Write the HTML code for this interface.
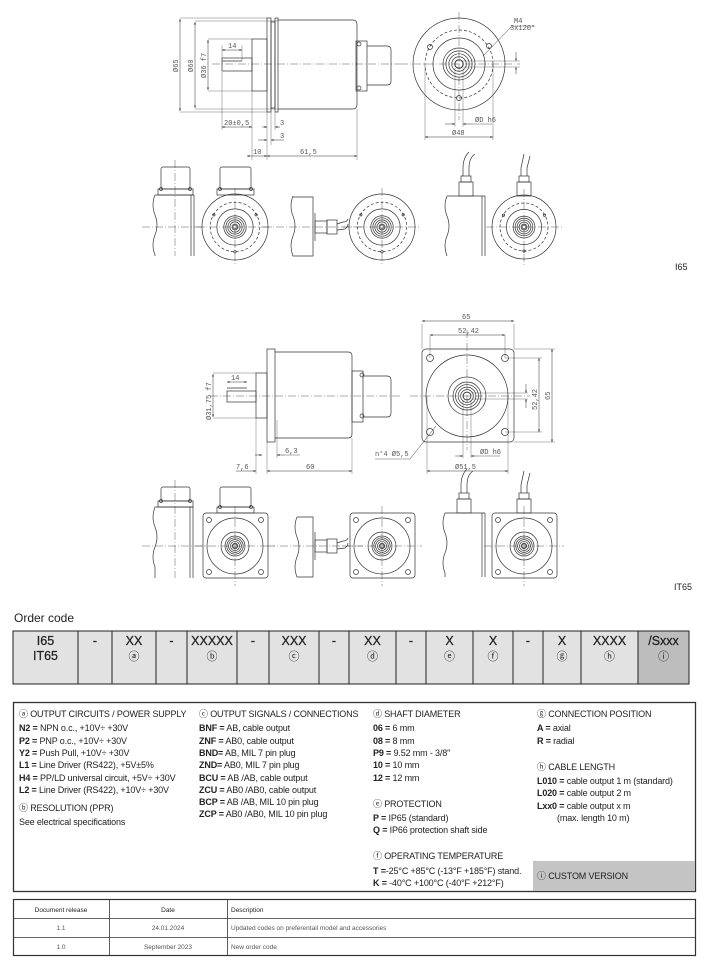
<!DOCTYPE html>
<html><head><meta charset="utf-8"><style>
html,body{margin:0;padding:0;background:#fff;}
svg{display:block;}
.t{font-family:"Liberation Sans",sans-serif;fill:#222;}
.d{font-family:"Liberation Mono",monospace;font-size:7px;fill:#555;}
</style></head><body>
<svg id="s" width="709" height="964" viewBox="0 0 709 964" xmlns="http://www.w3.org/2000/svg">
<defs>
<marker id="a" viewBox="0 0 6 6" refX="6" refY="3" markerWidth="5" markerHeight="5" orient="auto-start-reverse"><path d="M0,1 L6,3 L0,5z" fill="#222"/></marker>
</defs>
<g id="draw" fill="none" stroke="#333" stroke-width="0.7"></g>

<text class="d" transform="translate(178,72) rotate(-90)">Ø65</text>
<text class="d" transform="translate(193,72) rotate(-90)">Ø60</text>
<text class="d" transform="translate(206,78) rotate(-90)">Ø36 f7</text>
<text class="d" x="228" y="48">14</text>
<text class="d" x="224" y="125">20±0,5</text>
<text class="d" x="280" y="125">3</text>
<text class="d" x="280" y="138">3</text>
<text class="d" x="253" y="154">10</text>
<text class="d" x="300" y="154">61,5</text>
<text class="d" x="514" y="23">M4</text>
<text class="d" x="510" y="30">3x120°</text>
<text class="d" x="475" y="122">ØD h6</text>
<text class="d" x="452" y="135">Ø48</text>
<text class="t" x="675" y="270" style="font-size:9px">I65</text>

<text class="d" transform="translate(211,420) rotate(-90)">Ø31,75 f7</text>
<text class="d" x="231" y="380">14</text>
<text class="d" x="285" y="453">6,3</text>
<text class="d" x="306" y="469">60</text>
<text class="d" x="236" y="469">7,6</text>
<text class="d" x="462" y="319">65</text>
<text class="d" x="458" y="333">52,42</text>
<text class="d" transform="translate(537,410) rotate(-90)">52,42</text>
<text class="d" transform="translate(550,400) rotate(-90)">65</text>
<text class="d" x="480" y="454">ØD h6</text>
<text class="d" x="455" y="469">Ø51,5</text>
<text class="d" x="375" y="456">n°4 Ø5,5</text>
<text class="t" x="674" y="590" style="font-size:9px">IT65</text>

<text class="t" x="14" y="622" style="font-size:12px">Order code</text>
<g id="oc"></g>

<rect x="13.5" y="702.5" width="682" height="189" fill="none" stroke="#333" stroke-width="1.3"/>
<rect x="533" y="861" width="162" height="30" fill="#c4c4c4"/>
<g class="t" style="font-size:9px;letter-spacing:-0.15px">
<text x="19" y="717">ⓐ OUTPUT CIRCUITS / POWER SUPPLY</text>
<text x="19" y="731"><tspan font-weight="bold">N2 =</tspan> NPN o.c., +10V÷ +30V</text>
<text x="19" y="744"><tspan font-weight="bold">P2 =</tspan> PNP o.c., +10V÷ +30V</text>
<text x="19" y="756"><tspan font-weight="bold">Y2 =</tspan> Push Pull, +10V÷ +30V</text>
<text x="19" y="768"><tspan font-weight="bold">L1 =</tspan> Line Driver (RS422), +5V±5%</text>
<text x="19" y="781"><tspan font-weight="bold">H4 =</tspan> PP/LD universal circuit, +5V÷ +30V</text>
<text x="19" y="793"><tspan font-weight="bold">L2 =</tspan> Line Driver (RS422), +10V÷ +30V</text>
<text x="19" y="811">ⓑ RESOLUTION (PPR)</text>
<text x="19" y="825">See electrical specifications</text>

<text x="199" y="717">ⓒ OUTPUT SIGNALS / CONNECTIONS</text>
<text x="199" y="731"><tspan font-weight="bold">BNF =</tspan> AB, cable output</text>
<text x="199" y="744"><tspan font-weight="bold">ZNF =</tspan> AB0, cable output</text>
<text x="199" y="756"><tspan font-weight="bold">BND=</tspan> AB, MIL 7 pin plug</text>
<text x="199" y="768"><tspan font-weight="bold">ZND=</tspan> AB0, MIL 7 pin plug</text>
<text x="199" y="781"><tspan font-weight="bold">BCU =</tspan> AB /AB, cable output</text>
<text x="199" y="793"><tspan font-weight="bold">ZCU =</tspan> AB0 /AB0, cable output</text>
<text x="199" y="805"><tspan font-weight="bold">BCP =</tspan> AB /AB, MIL 10 pin plug</text>
<text x="199" y="817"><tspan font-weight="bold">ZCP =</tspan> AB0 /AB0, MIL 10 pin plug</text>

<text x="373" y="717">ⓓ SHAFT DIAMETER</text>
<text x="373" y="731"><tspan font-weight="bold">06 =</tspan> 6 mm</text>
<text x="373" y="744"><tspan font-weight="bold">08 =</tspan> 8 mm</text>
<text x="373" y="756"><tspan font-weight="bold">P9 =</tspan> 9.52 mm - 3/8"</text>
<text x="373" y="768"><tspan font-weight="bold">10 =</tspan> 10 mm</text>
<text x="373" y="781"><tspan font-weight="bold">12 =</tspan> 12 mm</text>
<text x="373" y="807">ⓔ PROTECTION</text>
<text x="373" y="821"><tspan font-weight="bold">P =</tspan> IP65 (standard)</text>
<text x="373" y="833"><tspan font-weight="bold">Q =</tspan> IP66 protection shaft side</text>
<text x="373" y="859">ⓕ OPERATING TEMPERATURE</text>
<text x="373" y="874"><tspan font-weight="bold">T =</tspan>-25°C +85°C (-13°F +185°F) stand.</text>
<text x="373" y="886"><tspan font-weight="bold">K =</tspan> -40°C +100°C (-40°F +212°F)</text>

<text x="537" y="717">ⓖ CONNECTION POSITION</text>
<text x="537" y="731"><tspan font-weight="bold">A =</tspan> axial</text>
<text x="537" y="744"><tspan font-weight="bold">R =</tspan> radial</text>
<text x="537" y="770">ⓗ CABLE LENGTH</text>
<text x="537" y="784"><tspan font-weight="bold">L010 =</tspan> cable output 1 m (standard)</text>
<text x="537" y="796"><tspan font-weight="bold">L020 =</tspan> cable output 2 m</text>
<text x="537" y="809"><tspan font-weight="bold">Lxx0 =</tspan> cable output x m</text>
<text x="557" y="821">(max. length 10 m)</text>
<text x="537" y="879">ⓘ CUSTOM VERSION</text>
</g>

<g fill="none" stroke="#333" stroke-width="0.8">
<rect x="13.5" y="899.5" width="682" height="56" stroke-width="1.2"/>
<line x1="13.5" y1="918.5" x2="695.5" y2="918.5"/>
<line x1="13.5" y1="937.5" x2="695.5" y2="937.5"/>
<line x1="109.5" y1="899.5" x2="109.5" y2="955.5"/>
<line x1="227.5" y1="899.5" x2="227.5" y2="955.5"/>
</g>
<g class="t" style="font-size:6.5px">
<text x="61" y="912" text-anchor="middle">Document release</text>
<text x="168" y="912" text-anchor="middle">Date</text>
<text x="231" y="912">Description</text>
<text x="61" y="930" text-anchor="middle" fill="#555">1.1</text>
<text x="168" y="930" text-anchor="middle" fill="#555">24.01.2024</text>
<text x="231" y="930" fill="#555">Updated codes on preferentail model and accessories</text>
<text x="61" y="949" text-anchor="middle" fill="#555">1.0</text>
<text x="168" y="949" text-anchor="middle" fill="#555">September 2023</text>
<text x="231" y="949" fill="#555">New order code</text>
</g>
</svg>
<script>
(function(){
var NS="http://www.w3.org/2000/svg";
var g=document.getElementById('draw');
function el(n,a,p){var e=document.createElementNS(NS,n);for(var k in a)e.setAttribute(k,a[k]);(p||g).appendChild(e);return e;}
function L(x1,y1,x2,y2,extra){var a={x1:x1,y1:y1,x2:x2,y2:y2};for(var k in extra)a[k]=extra[k];return el('line',a);}
function R(x,y,w,h,rx){return el('rect',{x:x,y:y,width:w,height:h,rx:rx||0});}
function C(cx,cy,r,extra){var a={cx:cx,cy:cy,r:r};for(var k in extra)a[k]=extra[k];return el('circle',a);}
var cl={'stroke-dasharray':'8,2,1,2','stroke-width':0.4};
var dash={'stroke-dasharray':'3,2'};
function dim(x1,y1,x2,y2){L(x1,y1,x2,y2,{'marker-start':'url(#a)','marker-end':'url(#a)','stroke-width':0.5});}
function ext(x1,y1,x2,y2){L(x1,y1,x2,y2,{'stroke-width':0.35});}
function rings(cx,cy,r){for(var i=0;i<5;i++)C(cx,cy,r-i*r/5.5);}

L(212,64,400,64,cl);
R(222,58,30,13); L(222,61,242,61);
R(252,39,15,52);
R(267,18,4,94); R(271,22,4,86); R(275,18,3,94);
el('path',{d:'M278,20 H353 Q357,20 357,25 V104 Q357,109 353,109 H278'});
R(356,41,11,50); C(359,44,2); C(359,88,2);
el('path',{d:'M367,46 H387 Q391,46 391,50 V81 Q391,85 387,85 H367'});
ext(180,18,267,18); ext(180,112,267,112); dim(180,19,180,111);
ext(195,21,278,21); ext(195,109,278,109); dim(195,22,195,108);
ext(208,39,252,39); ext(208,91,252,91); dim(208,40,208,90);
dim(222,50,242,50); ext(222,45,222,58); ext(242,45,242,61);
ext(222,72,222,130); ext(252,91,252,160); ext(267,112,267,160); ext(271,112,271,145); ext(275,112,275,130); ext(357,109,357,160);
dim(222,127,252,127);
L(262,127,267,127,{'marker-end':'url(#a)','stroke-width':0.5}); L(280,127,275,127,{'marker-end':'url(#a)','stroke-width':0.5});
L(258,140,267,140,{'marker-end':'url(#a)','stroke-width':0.5}); L(284,140,271,140,{'marker-end':'url(#a)','stroke-width':0.5});
dim(247,156,267,156); dim(267,156,357,156);
var cx=459,cy=64;
C(cx,cy,46); C(cx,cy,34,dash); C(cx,cy,26); rings(cx,cy,16); C(cx,cy,4);
L(400,cy,520,cy,cl); L(cx,12,cx,120,cl);
C(430,47,2.5); C(489,46,2.5); C(459,98,2.5);
L(483,56,512,26,{'stroke-width':0.5}); L(512,26,535,26,{'stroke-width':0.4});
ext(cx+4,cy-3,520,cy-3); ext(cx+4,cy+3,520,cy+3);
L(516,52,516,61,{'marker-end':'url(#a)','stroke-width':0.5}); L(516,74,516,67,{'marker-end':'url(#a)','stroke-width':0.5});
ext(425,64,425,140); ext(493,64,493,140); dim(425,137,493,137);
ext(455,68,455,127); ext(463,68,463,127);
L(445,124,455,124,{'marker-end':'url(#a)','stroke-width':0.5}); L(473,124,463,124,{'marker-end':'url(#a)','stroke-width':0.5}); L(473,124,492,124,{'stroke-width':0.4});

L(210,396,400,396,cl);
R(227,391,29,11); L(227,388,247,388);
R(256,373,11,45);
R(267,349,8,93);
el('path',{d:'M275,352 H348 Q352,352 352,356 V434 Q352,438 348,438 H275'});
R(352,371,11,51); C(362,375,2); C(362,416,2);
el('path',{d:'M363,376 H387 Q391,376 391,380 V413 Q391,417 387,417 H363'});
ext(213,373,256,373); ext(213,418,256,418); dim(213,374,213,417);
dim(227,382,247,382);
ext(256,418,256,474); ext(267,442,267,474); ext(277,420,277,458); ext(352,438,352,474);
L(255,455,262,455,{'marker-end':'url(#a)','stroke-width':0.5}); L(285,455,277,455,{'marker-end':'url(#a)','stroke-width':0.5}); L(285,455,300,455,{'stroke-width':0.4});
dim(267,471,352,471); L(236,471,256,471,{'marker-end':'url(#a)','stroke-width':0.5});
cx=467;cy=396;
el('rect',{x:422,y:349,width:92,height:93,rx:4});
C(cx,cy,41); C(cx,cy,19); rings(cx,cy,14); C(cx,cy,4);
C(430,358,3.5); C(505,358,3.5); C(430,432,3.5); C(505,432,3.5);
L(410,cy,530,cy,cl); L(cx,330,cx,450,cl);
ext(422,324,422,349); ext(514,324,514,349); dim(422,321,514,321);
ext(430,335,430,358); ext(505,335,505,358); dim(430,335,505,335);
ext(505,358,542,358); ext(505,432,542,432); dim(539,358,539,432);
ext(514,349,555,349); ext(514,442,555,442); dim(552,349,552,442);
ext(cx+4,cy-3,528,cy-3); ext(cx+4,cy+3,528,cy+3);
L(526,384,526,393,{'marker-end':'url(#a)','stroke-width':0.5}); L(526,408,526,399,{'marker-end':'url(#a)','stroke-width':0.5});
ext(427,396,427,474); ext(508,396,508,474); dim(427,471,508,471);
ext(463,400,463,458); ext(471,400,471,458);
L(455,456,463,456,{'marker-end':'url(#a)','stroke-width':0.5}); L(478,456,471,456,{'marker-end':'url(#a)','stroke-width':0.5}); L(478,456,500,456,{'stroke-width':0.4});
L(375,459,410,459,{'stroke-width':0.4}); L(410,459,436,426,{'stroke-width':0.5});

function wavy(x,y1,y2){el('path',{d:'M'+x+','+y1+' q-4,10 0,20 q4,10 0,20 q-4,10 0,20 L'+x+','+y2});}
function sideBlock(x1,x2,y1,y2){wavy(x1,y1,y2);L(x1,y1,x2,y1);L(x2,y1,x2,y2);L(x2-3,y1,x2-3,y2);}
function plugTop(x1,x2,y1,y2){R(x1,y1,x2-x1,y2-y1-6,2);R(x1-3,y2-6,x2-x1+6,6);C(x1,y2-6,1.5);C(x2,y2-6,1.5);}
function gland(x,y1,y2,bend){R(x-7,y2-14,14,14);R(x-5,y2-20,10,6);var b=bend?'q0,-10 6,-16':'l3,-14';el('path',{d:'M'+(x-3)+','+(y2-20)+' l0,-8 '+b});el('path',{d:'M'+(x+3)+','+(y2-20)+' l0,-8 '+(bend?'q0,-10 6,-14':'l3,-12')});}
function faceRound(cx,cy,r){C(cx,cy,r);C(cx,cy,r*0.75,dash);C(cx,cy,r*0.55);rings(cx,cy,r*0.34);C(cx,cy,2);C(cx-r*0.64,cy-r*0.37,1.2);C(cx+r*0.64,cy-r*0.37,1.2);C(cx,cy+r*0.75,1.2);L(cx-r-6,cy,cx+r+6,cy,cl);L(cx,cy-r-6,cx,cy+r+6,cl);}
function faceSq(cx,cy){el('rect',{x:cx-32,y:cy-33,width:65,height:65,rx:3});C(cx,cy,28);C(cx,cy,14);rings(cx,cy,10);C(cx,cy,2);C(cx-26,cy-26,2.5);C(cx+26,cy-26,2.5);C(cx-26,cy+26,2.5);C(cx+26,cy+26,2.5);L(cx-40,cy,cx+40,cy,cl);L(cx,cy-40,cx,cy+40,cl);}
function sideConn(x1,x2,y1,y2,cy){el('path',{d:'M'+x1+','+y1+' H'+x2+' V'+y2+' H'+x1+' q-4,-10 0,-20 q4,-10 0,-20 q-4,-10 0,-20'});L(x2+2,cy-14,x2+2,cy+14);R(x2+2,cy-6,12,12);R(x2+14,cy-7,10,14);el('path',{d:'M'+(x2+24)+','+(cy-3)+' l6,-2 q4,0 5,-3 M'+(x2+24)+','+(cy+3)+' l8,-1 q3,-2 3,-5'});L(x1-30,cy,x2+50,cy,cl);}
sideBlock(155,194,195,256); plugTop(161,190,167,195); L(142,227,205,227,cl); L(175,160,175,256,cl);
plugTop(220,251,167,195); faceRound(235,227,33);
sideConn(293,313,197,256,227);
faceRound(382,227,33);
sideBlock(447,485,196,256); gland(466,160,196,true);
faceRound(524,227,32); gland(524,160,196,false);
sideBlock(155,193,507,578); plugTop(161,190,487,507); L(142,546,205,546,cl); L(175,480,175,578,cl);
faceSq(235,546); plugTop(220,251,487,513);
sideConn(297,313,517,577,546);
faceSq(382,546);
sideBlock(445,485,513,577); gland(464,480,513,true);
faceSq(524,546); gland(524,480,513,false);

var oc=document.getElementById('oc');
var xs=[13,78,112,156,187,237,269,319,349,396,426,473,513,543,581,638,689];
for(var i=0;i<xs.length-1;i++){el('rect',{x:xs[i],y:631,width:xs[i+1]-xs[i],height:53,fill:i==15?'#bdbdbd':'#e2e2e2',stroke:'#222','stroke-width':1},oc);}
var r1=['I65','-','XX','-','XXXXX','-','XXX','-','XX','-','X','X','-','X','XXXX','/Sxxx'];
var r2=['IT65','','ⓐ','','ⓑ','','ⓒ','','ⓓ','','ⓔ','ⓕ','','ⓖ','ⓗ','ⓘ'];
for(var i=0;i<16;i++){var m=(xs[i]+xs[i+1])/2;
 var t=el('text',{x:m,y:645,'text-anchor':'middle','class':'t','style':'font-size:12.5px;fill:#222;stroke:#222;stroke-width:0.25'},oc);t.textContent=r1[i];
 if(r2[i]){var t2=el('text',{x:m,y:660,'text-anchor':'middle','class':'t','style':'font-size:'+(i==0?12.5:11)+'px;fill:#222;'+(i==0?'stroke:#222;stroke-width:0.25':'')},oc);t2.textContent=r2[i];}}
})();
</script>
</body></html>
